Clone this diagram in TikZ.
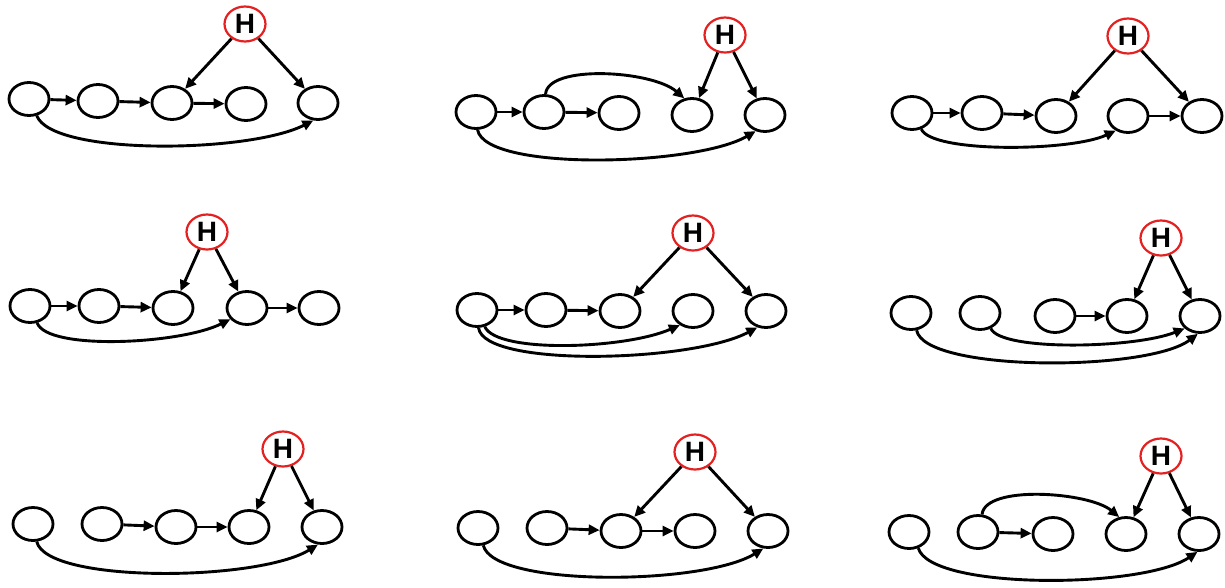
\documentclass[tikz,border=0pt]{standalone}
\usepackage{fontspec}
\newfontfamily\hfont{Liberation Sans}
\usetikzlibrary{shapes.geometric,arrows.meta}
\definecolor{hred}{RGB}{228,32,32}
\tikzset{
  v/.style={ellipse, draw, line width=2.8pt, minimum width=40pt, minimum height=33pt, inner sep=0pt},
  hid/.style={ellipse, draw=hred, line width=2.2pt, minimum width=41pt, minimum height=35pt, inner sep=0pt,
    font=\hfont\bfseries\fontsize{28}{30}\selectfont},
  arr/.style={-{Triangle[length=11pt,width=10pt]}, line width=2.9pt},
}
\begin{document}
\begin{tikzpicture}[x=1pt,y=1pt]
\useasboundingbox (0,0) rectangle (1225,-587);
% ---------- Panel 1
\node[v] (a11) at (29,-99) {};
\node[v] (a12) at (98,-101) {};
\node[v] (a13) at (172,-103) {};
\node[v] (a14) at (246,-104) {};
\node[v] (a15) at (318,-103) {};
\node[hid] (h1) at (245,-24) {H};
\draw[arr] (a11) -- (a12);
\draw[arr] (a12) -- (a13);
\draw[arr] (a13) -- (a14);
\draw[arr] (h1) -- (a13);
\draw[arr] (h1) -- (a15);
\draw[arr] (a11.-65) .. controls +(15,-40) and +(-65,-33) .. (a15.-105);
% ---------- Panel 2
\node[v] (a21) at (476,-112) {};
\node[v] (a22) at (544,-112) {};
\node[v] (a23) at (619,-113) {};
\node[v] (a24) at (692,-115) {};
\node[v] (a25) at (765,-115) {};
\node[hid] (h2) at (725,-35) {H};
\draw[arr] (a21) -- (a22);
\draw[arr] (a22) -- (a23);
\draw[arr] (h2) -- (a24);
\draw[arr] (h2) -- (a25);
\draw[arr] (a21.-85) .. controls +(8,-42) and +(-60,-35) .. (a25.-120);
\draw[arr] (a22.85) .. controls +(2,30) and +(-32,28) .. (a24.115);
% ---------- Panel 3
\node[v] (a31) at (912,-113) {};
\node[v] (a32) at (982,-113) {};
\node[v] (a33) at (1056,-116) {};
\node[v] (a34) at (1128,-116) {};
\node[v] (a35) at (1202,-116) {};
\node[hid] (h3) at (1128,-36) {H};
\draw[arr] (a31) -- (a32);
\draw[arr] (a32) -- (a33);
\draw[arr] (a34) -- (a35);
\draw[arr] (h3) -- (a33);
\draw[arr] (h3) -- (a35);
\draw[arr] (a31.-60) .. controls +(10,-24) and +(-45,-21) .. (a34.-130);
% ---------- Panel 4
\node[v] (a41) at (30,-306) {};
\node[v] (a42) at (99,-306) {};
\node[v] (a43) at (173,-308) {};
\node[v] (a44) at (247,-308) {};
\node[v] (a45) at (319,-308) {};
\node[hid] (h4) at (207,-232) {H};
\draw[arr] (a41) -- (a42);
\draw[arr] (a42) -- (a43);
\draw[arr] (a44) -- (a45);
\draw[arr] (h4) -- (a43);
\draw[arr] (h4) -- (a44);
\draw[arr] (a41.-67) .. controls +(10,-28) and +(-50,-25) .. (a44.-146);
% ---------- Panel 5
\node[v] (a51) at (477,-310) {};
\node[v] (a52) at (546,-310) {};
\node[v] (a53) at (620,-311) {};
\node[v] (a54) at (693,-311) {};
\node[v] (a55) at (766,-311) {};
\node[hid] (h5) at (693,-233) {H};
\draw[arr] (a51) -- (a52);
\draw[arr] (a52) -- (a53);
\draw[arr] (h5) -- (a53);
\draw[arr] (h5) -- (a55);
\draw[arr] (a51.-65) .. controls +(12,-27) and +(-55,-24) .. (a54.-133);
\draw[arr] (a51.-85) .. controls +(5,-40) and +(-65,-35) .. (a55.-118);
% ---------- Panel 6
\node[v] (a61) at (911,-313) {};
\node[v] (a62) at (980,-313) {};
\node[v] (a63) at (1055,-316) {};
\node[v] (a64) at (1127,-316) {};
\node[v] (a65) at (1200,-316) {};
\node[hid] (h6) at (1161,-238) {H};
\draw[arr] (a63) -- (a64);
\draw[arr] (h6) -- (a64);
\draw[arr] (h6) -- (a65);
\draw[arr] (a62.-55) .. controls +(10,-23) and +(-50,-20) .. (a65.-141);
\draw[arr] (a61.-72) .. controls +(8,-42) and +(-50,-38) .. (a65.-97);
% ---------- Panel 7
\node[v] (a71) at (33,-524) {};
\node[v] (a72) at (102,-524) {};
\node[v] (a73) at (176,-527) {};
\node[v] (a74) at (249,-527) {};
\node[v] (a75) at (322,-527) {};
\node[hid] (h7) at (283,-449) {H};
\draw[arr] (a72) -- (a73);
\draw[arr] (a73) -- (a74);
\draw[arr] (h7) -- (a74);
\draw[arr] (h7) -- (a75);
\draw[arr] (a71.-78) .. controls +(10,-42) and +(-60,-37) .. (a75.-103);
% ---------- Panel 8
\node[v] (a81) at (478,-528) {};
\node[v] (a82) at (547,-528) {};
\node[v] (a83) at (621,-531) {};
\node[v] (a84) at (695,-531) {};
\node[v] (a85) at (768,-531) {};
\node[hid] (h8) at (695,-452) {H};
\draw[arr] (a82) -- (a83);
\draw[arr] (a83) -- (a84);
\draw[arr] (h8) -- (a83);
\draw[arr] (h8) -- (a85);
\draw[arr] (a81.-73) .. controls +(10,-42) and +(-60,-37) .. (a85.-105);
% ---------- Panel 9
\node[v] (a91) at (909,-532) {};
\node[v] (a92) at (978,-532) {};
\node[v] (a93) at (1053,-534) {};
\node[v] (a94) at (1126,-534) {};
\node[v] (a95) at (1199,-534) {};
\node[hid] (h9) at (1161,-456) {H};
\draw[arr] (a92) -- (a93);
\draw[arr] (h9) -- (a94);
\draw[arr] (h9) -- (a95);
\draw[arr] (a91.-60) .. controls +(12,-42) and +(-55,-37) .. (a95.-95);
\draw[arr] (a92.77) .. controls +(3,30) and +(-30,25) .. (a94.112);
\end{tikzpicture}
\end{document}
